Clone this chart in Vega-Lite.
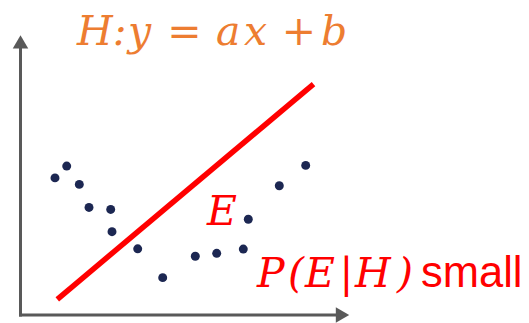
{
  "$schema": "https://vega.github.io/schema/vega-lite/v6.json",
  "width": 529,
  "height": 323,
  "padding": 0,
  "autosize": {"type": "fit", "contains": "padding"},
  "background": "white",
  "config": {"view": {"stroke": null}},
  "datasets": {
    "axes": [
      {"x1": 20.5, "y1": 47, "x2": 20.5, "y2": 321.5},
      {"x1": 19, "y1": 320, "x2": 337, "y2": 320}
    ],
    "heads": [
      {"x": 20.5, "y": 42.5, "dir": "up"},
      {"x": 342.5, "y": 320, "dir": "right"}
    ],
    "fit": [
      {"x1": 57.3, "y1": 304, "x2": 313.5, "y2": 85.5}
    ],
    "points": [
      {"x": 55, "y": 180.7},
      {"x": 66.7, "y": 168.7},
      {"x": 79.3, "y": 187.3},
      {"x": 89, "y": 210.7},
      {"x": 110.7, "y": 212.7},
      {"x": 112, "y": 235.3},
      {"x": 137.7, "y": 252.7},
      {"x": 162.7, "y": 282},
      {"x": 195.3, "y": 260.3},
      {"x": 216.7, "y": 257.3},
      {"x": 243.3, "y": 253},
      {"x": 248.3, "y": 222.7},
      {"x": 279.3, "y": 188.7},
      {"x": 305.7, "y": 168}
    ],
    "mathItalic": [
      {"x": 77, "y": 46, "t": "H:", "c": "orange"},
      {"x": 128, "y": 46, "t": "y", "c": "orange"},
      {"x": 216, "y": 46, "t": "a", "c": "orange"},
      {"x": 244, "y": 46, "t": "x", "c": "orange"},
      {"x": 321, "y": 46, "t": "b", "c": "orange"},
      {"x": 207, "y": 229, "t": "E", "c": "red"},
      {"x": 257, "y": 292, "t": "P", "c": "red"},
      {"x": 288, "y": 292, "t": "(", "c": "red"},
      {"x": 305, "y": 292, "t": "E", "c": "red"},
      {"x": 355, "y": 292, "t": "H", "c": "red"},
      {"x": 397, "y": 292, "t": ")", "c": "red"}
    ],
    "mathUpright": [
      {"x": 184.5, "y": 46, "t": "=", "c": "orange"},
      {"x": 299, "y": 46, "t": "+", "c": "orange"},
      {"x": 346.5, "y": 292, "t": "|", "c": "red"}
    ],
    "words": [
      {"x": 421, "y": 292, "t": "small"}
    ]
  },
  "layer": [
    {
      "data": {"name": "axes"},
      "mark": {"type": "rule", "color": "#595959", "strokeWidth": 3},
      "encoding": {
        "x": {"field": "x1", "type": "quantitative", "axis": null, "scale": {"domain": [0, 529], "nice": false, "zero": false}},
        "y": {"field": "y1", "type": "quantitative", "axis": null, "scale": {"domain": [0, 323], "nice": false, "zero": false, "reverse": true}},
        "x2": {"field": "x2"},
        "y2": {"field": "y2"}
      }
    },
    {
      "data": {"name": "heads"},
      "mark": {"type": "point", "filled": true, "color": "#595959", "opacity": 1, "size": 240},
      "encoding": {
        "x": {"field": "x", "type": "quantitative"},
        "y": {"field": "y", "type": "quantitative"},
        "shape": {"field": "dir", "type": "nominal", "legend": null, "scale": {"domain": ["up", "right"], "range": ["triangle-up", "triangle-right"]}}
      }
    },
    {
      "data": {"name": "fit"},
      "mark": {"type": "rule", "color": "#FF0000", "strokeWidth": 5.5},
      "encoding": {
        "x": {"field": "x1", "type": "quantitative"},
        "y": {"field": "y1", "type": "quantitative"},
        "x2": {"field": "x2"},
        "y2": {"field": "y2"}
      }
    },
    {
      "data": {"name": "points"},
      "mark": {"type": "circle", "color": "#1C2752", "opacity": 1, "size": 80},
      "encoding": {
        "x": {"field": "x", "type": "quantitative"},
        "y": {"field": "y", "type": "quantitative"}
      }
    },
    {
      "data": {"name": "mathItalic"},
      "mark": {"type": "text", "font": "DejaVu Serif", "fontStyle": "italic", "fontSize": 41, "align": "left", "baseline": "alphabetic"},
      "encoding": {
        "x": {"field": "x", "type": "quantitative"},
        "y": {"field": "y", "type": "quantitative"},
        "text": {"field": "t"},
        "color": {"field": "c", "type": "nominal", "legend": null, "scale": {"domain": ["orange", "red"], "range": ["#ED7D31", "#FF0000"]}}
      }
    },
    {
      "data": {"name": "mathUpright"},
      "mark": {"type": "text", "font": "DejaVu Serif", "fontSize": 41, "align": "center", "baseline": "alphabetic"},
      "encoding": {
        "x": {"field": "x", "type": "quantitative"},
        "y": {"field": "y", "type": "quantitative"},
        "text": {"field": "t"},
        "color": {"field": "c", "type": "nominal", "legend": null, "scale": {"domain": ["orange", "red"], "range": ["#ED7D31", "#FF0000"]}}
      }
    },
    {
      "data": {"name": "words"},
      "mark": {"type": "text", "font": "Liberation Sans", "fontSize": 43.5, "align": "left", "baseline": "alphabetic", "color": "#FF0000"},
      "encoding": {
        "x": {"field": "x", "type": "quantitative"},
        "y": {"field": "y", "type": "quantitative"},
        "text": {"field": "t"}
      }
    }
  ]
}
